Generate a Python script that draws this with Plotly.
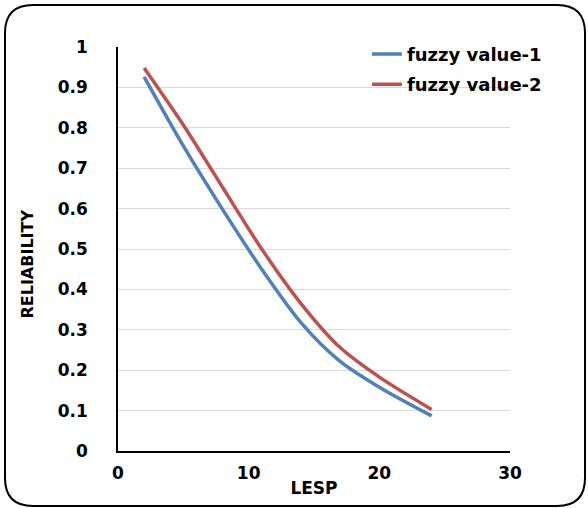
import plotly.graph_objects as go

lesp_1 = [2, 5, 8, 11, 14, 17, 20, 24]
fuzzy_value_1 = [0.926, 0.755, 0.598, 0.45, 0.318, 0.222, 0.158, 0.087]
lesp_2 = [2, 5, 8, 11, 14, 17, 20, 24]
fuzzy_value_2 = [0.948, 0.807, 0.653, 0.50, 0.365, 0.256, 0.183, 0.103]
series_names = ["fuzzy value-1", "fuzzy value-2"]

W, H = 588, 508
L, R, T, B = 118, 78, 47, 57
pw, ph = W - L - R, H - T - B
FONT = "DejaVu Sans"

fig = go.Figure()
fig.add_trace(go.Scatter(x=lesp_1, y=fuzzy_value_1, mode="lines", name=f"<b>{series_names[0]}</b>",
                         line=dict(color="#4F81BD", width=3.5, shape="spline", smoothing=0.8),
                         legendgroup="a"))
fig.add_trace(go.Scatter(x=lesp_2, y=fuzzy_value_2, mode="lines", name=f"<b>{series_names[1]}</b>",
                         line=dict(color="#C0504D", width=3.5, shape="spline", smoothing=0.8),
                         legendgroup="b"))

def px(xp):
    return (xp - L) / pw

def py(yp):
    return (H - B - yp) / ph

x0, x1, y0, y1, r = 5, 585, 5, 506, 28
path = (f"M {px(x0+r)},{py(y0)} L {px(x1-r)},{py(y0)} "
        f"Q {px(x1)},{py(y0)} {px(x1)},{py(y0+r)} "
        f"L {px(x1)},{py(y1-r)} Q {px(x1)},{py(y1)} {px(x1-r)},{py(y1)} "
        f"L {px(x0+r)},{py(y1)} Q {px(x0)},{py(y1)} {px(x0)},{py(y1-r)} "
        f"L {px(x0)},{py(y0+r)} Q {px(x0)},{py(y0)} {px(x0+r)},{py(y0)} Z")

fig.update_layout(
    width=W, height=H,
    margin=dict(l=L, r=R, t=T, b=B),
    paper_bgcolor="white", plot_bgcolor="white",
    font=dict(family=FONT, size=17, color="black"),
    shapes=[dict(type="path", xref="paper", yref="paper", path=path,
                 line=dict(color="black", width=2), layer="below")],
    legend=dict(x=0.635, y=1.028, xanchor="left", yanchor="top",
                font=dict(family=FONT, size=18, color="black"),
                bgcolor="rgba(0,0,0,0)", tracegroupgap=4, itemwidth=30),
    showlegend=True,
)
fig.update_xaxes(range=[0, 30], tickvals=[0, 10, 20, 30],
                 ticktext=["<b>0</b>", "<b>10</b>", "<b>20</b>", "<b>30</b>"],
                 showgrid=False, showline=True, linecolor="black", linewidth=1.5, zeroline=False,
                 ticks="", ticklabelstandoff=6,
                 tickfont=dict(family=FONT, size=17, color="black"),
                 title=dict(text="<b>LESP</b>", font=dict(family=FONT, size=17), standoff=0))
fig.update_yaxes(range=[0, 1], tickvals=[i / 10 for i in range(11)],
                 ticktext=["<b>0</b>"] + [f"<b>{i/10:g}</b>" for i in range(1, 10)] + ["<b>1</b>"],
                 showgrid=True, gridcolor="#d9d9d9", gridwidth=1,
                 showline=True, linecolor="black", linewidth=1.5, zeroline=False,
                 ticks="", ticklabelstandoff=25,
                 tickfont=dict(family=FONT, size=17, color="black"),
                 title=dict(text="<b>RELIABILITY</b>" + "&nbsp;" * 6,
                            font=dict(family=FONT, size=16), standoff=20))
fig.write_html("out.html")
